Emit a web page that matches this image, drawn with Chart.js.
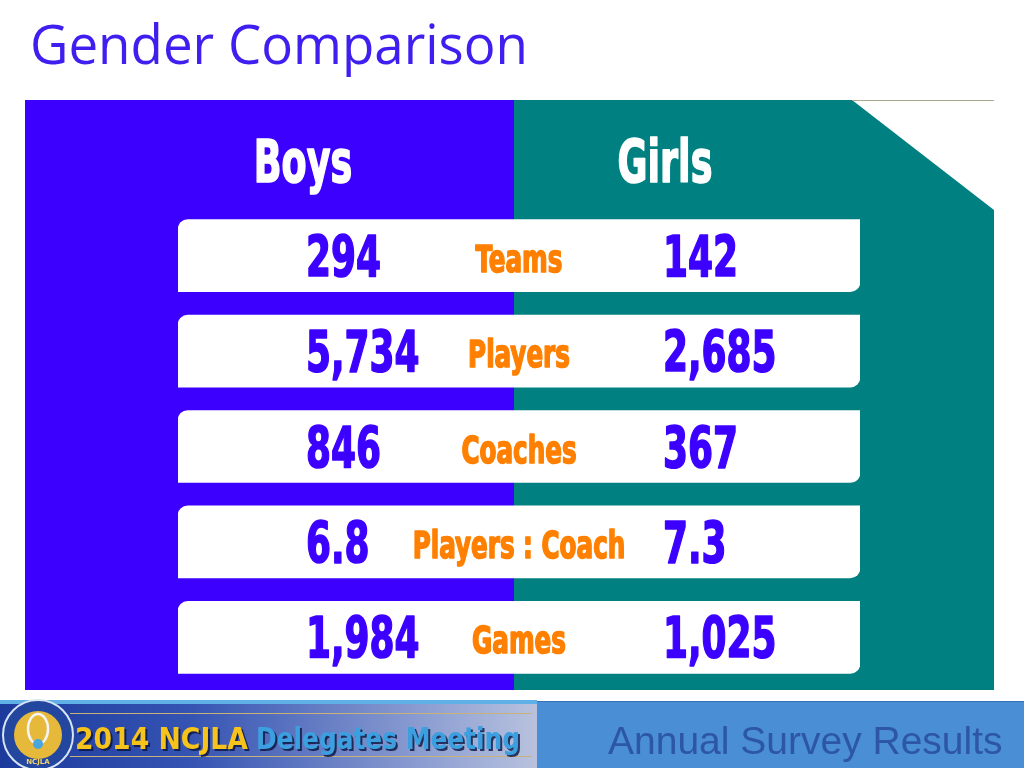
<!DOCTYPE html>
<html>
<head>
<meta charset="utf-8">
<title>Gender Comparison</title>
<script src="https://cdn.jsdelivr.net/npm/chart.js@4"></script>
<style>
  html, body { margin: 0; padding: 0; background: #fff; }
  #wrap { width: 1024px; height: 768px; }
</style>
</head>
<body>
<div id="wrap"><canvas id="genderChart" width="1024" height="768"></canvas></div>
<script>
// ==============================
//  DATA
// ==============================
const categories = ["Teams", "Players", "Coaches", "Players : Coach", "Games"];
const boysValues = [294, 5734, 846, 6.8, 1984];
const girlsValues = [142, 2685, 367, 7.3, 1025];
const rowSpan = [1, 1, 1, 1, 1];          // each white row spans the whole x range
const groupNames = ["Boys", "Girls"];
const slideTitle = "Gender Comparison";
const footerEvent = ["2014 NCJLA", "Delegates Meeting"];
const footerTitle = "Annual Survey Results";

const BLUE = "#3c00ff";
const TEAL = "#008080";
const ORANGE = "#ff8000";
const NARROW = '"DejaVu Sans Condensed", "DejaVu Sans", sans-serif';

function fmt(n) {
    return n.toLocaleString("en-US");
}

// Impact stand-in: bold condensed face squeezed horizontally, stroked to look heavier
function drawNarrow(ctx, text, x, y, size, color, align, squeeze) {
    ctx.save();
    ctx.font = `bold ${size}px ${NARROW}`;
    ctx.fillStyle = color;
    ctx.strokeStyle = color;
    ctx.lineWidth = 1.6;
    ctx.lineJoin = "round";
    ctx.textAlign = "left";
    ctx.textBaseline = "alphabetic";
    const w = ctx.measureText(text).width * squeeze;
    let left = x;
    if (align === "center") left = x - w / 2;
    if (align === "right") left = x - w;
    ctx.translate(left, y);
    ctx.scale(squeeze, 1);
    ctx.fillText(text, 0, 0);
    ctx.strokeText(text, 0, 0);
    ctx.restore();
}


// ==============================
//  SLIDE BACKGROUND
// ==============================
const slideBackground = {
    id: "slideBackground",
    beforeDraw(chart) {
        const ctx = chart.ctx;
        ctx.save();
        ctx.fillStyle = "#fff";
        ctx.fillRect(0, 0, chart.width, chart.height);

        // title
        ctx.font = '55px "Open Sans", "Noto Sans", sans-serif';
        ctx.fillStyle = "#3f1ff0";
        ctx.textBaseline = "alphabetic";
        ctx.fillText(slideTitle, 30, 64, 498);

        // boys panel
        ctx.fillStyle = BLUE;
        ctx.fillRect(25, 100, 489, 590);

        // girls panel with clipped corner
        ctx.fillStyle = TEAL;
        ctx.beginPath();
        ctx.moveTo(514, 100);
        ctx.lineTo(852, 100);
        ctx.lineTo(994, 210);
        ctx.lineTo(994, 690);
        ctx.lineTo(514, 690);
        ctx.closePath();
        ctx.fill();

        ctx.strokeStyle = "#a9a98f";
        ctx.lineWidth = 1;
        ctx.beginPath();
        ctx.moveTo(852, 100.5);
        ctx.lineTo(994, 100.5);
        ctx.stroke();

        // group headers
        drawNarrow(ctx, groupNames[0], 303, 182, 58, "#fff", "center", 0.7);
        drawNarrow(ctx, groupNames[1], 665, 182, 58, "#fff", "center", 0.7);

        drawFooter(ctx);
        ctx.restore();
    }
};

function drawFooter(ctx) {
    // left banner
    const g = ctx.createLinearGradient(0, 0, 537, 0);
    g.addColorStop(0, "#1c3a9c");
    g.addColorStop(0.35, "#3453b2");
    g.addColorStop(0.8, "#8e9fd2");
    g.addColorStop(1, "#b8c2de");
    ctx.fillStyle = g;
    ctx.fillRect(0, 700, 537, 68);
    ctx.fillStyle = "#5fb0e6";
    ctx.fillRect(0, 700, 537, 4);

    ctx.strokeStyle = "#c9b27a";
    ctx.lineWidth = 1;
    ctx.beginPath();
    ctx.moveTo(70, 713.5); ctx.lineTo(532, 713.5);
    ctx.moveTo(70, 756.5); ctx.lineTo(532, 756.5);
    ctx.stroke();

    // logo
    ctx.fillStyle = "#23479f";
    ctx.beginPath(); ctx.arc(38, 735, 35, 0, Math.PI * 2); ctx.fill();
    ctx.strokeStyle = "#d8e4f4";
    ctx.lineWidth = 2;
    ctx.stroke();
    ctx.fillStyle = "#e6b93a";
    ctx.beginPath(); ctx.arc(38, 735, 24, 0, Math.PI * 2); ctx.fill();
    ctx.strokeStyle = "#f4f4f4";
    ctx.lineWidth = 2.5;
    ctx.beginPath(); ctx.ellipse(38, 729, 10, 15, 0, 0, Math.PI * 2); ctx.stroke();
    ctx.fillStyle = "#49a6df";
    ctx.beginPath(); ctx.arc(38, 744, 5, 0, Math.PI * 2); ctx.fill();
    ctx.font = "bold 7px DejaVu Sans";
    ctx.fillStyle = "#f4d46a";
    ctx.textAlign = "center";
    ctx.fillText("NCJLA", 38, 764);

    // event text
    ctx.textAlign = "left";
    ctx.font = 'bold 30px "DejaVu Sans", sans-serif';
    ctx.shadowColor = "rgba(10,20,60,0.8)";
    ctx.shadowOffsetX = 2;
    ctx.shadowOffsetY = 2;
    ctx.fillStyle = "#f6c21c";
    ctx.fillText(footerEvent[0], 75, 749, 173);
    ctx.fillStyle = "#3c9fe0";
    ctx.fillText(footerEvent[1], 256, 749, 264);
    ctx.shadowColor = "transparent";

    // right block
    ctx.fillStyle = "#4a8ed5";
    ctx.fillRect(537, 701, 487, 67);
    ctx.fillStyle = "#3370b8";
    ctx.fillRect(537, 701, 487, 1);
    ctx.font = '39px "Liberation Sans", Arial, sans-serif';
    ctx.fillStyle = "#2d56a6";
    ctx.fillText(footerTitle, 608, 754, 398);
}


// ==============================
//  ROW TEXT
// ==============================
const rowText = {
    id: "rowText",
    afterDatasetsDraw(chart) {
        const ctx = chart.ctx;
        const y = chart.scales.y;
        categories.forEach((label, i) => {
            const cy = y.getPixelForValue(i);
            drawNarrow(ctx, fmt(boysValues[i]), 306, cy + 21, 57, BLUE, "left", 0.7);
            drawNarrow(ctx, label, 519, cy + 16, 37, ORANGE, "center", 0.74);
            drawNarrow(ctx, fmt(girlsValues[i]), 663, cy + 21, 57, BLUE, "left", 0.7);
        });
    }
};


// ==============================
//  CHART
// ==============================
new Chart(document.getElementById("genderChart").getContext("2d"), {
    type: "bar",
    data: {
        labels: categories,
        datasets: [{
            data: rowSpan,
            backgroundColor: "#ffffff",
            borderWidth: 0,
            borderSkipped: false,
            borderRadius: { topLeft: 10, topRight: 0, bottomLeft: 0, bottomRight: 10 },
            barThickness: 72
        }]
    },
    options: {
        indexAxis: "y",
        responsive: false,
        animation: false,
        devicePixelRatio: 1,
        layout: { padding: { left: 178, right: 164, top: 208, bottom: 83 } },
        scales: {
            x: { display: false, min: 0, max: 1 },
            y: { display: false }
        },
        plugins: {
            legend: { display: false },
            tooltip: { enabled: false }
        }
    },
    plugins: [slideBackground, rowText]
});
</script>
</body>
</html>
